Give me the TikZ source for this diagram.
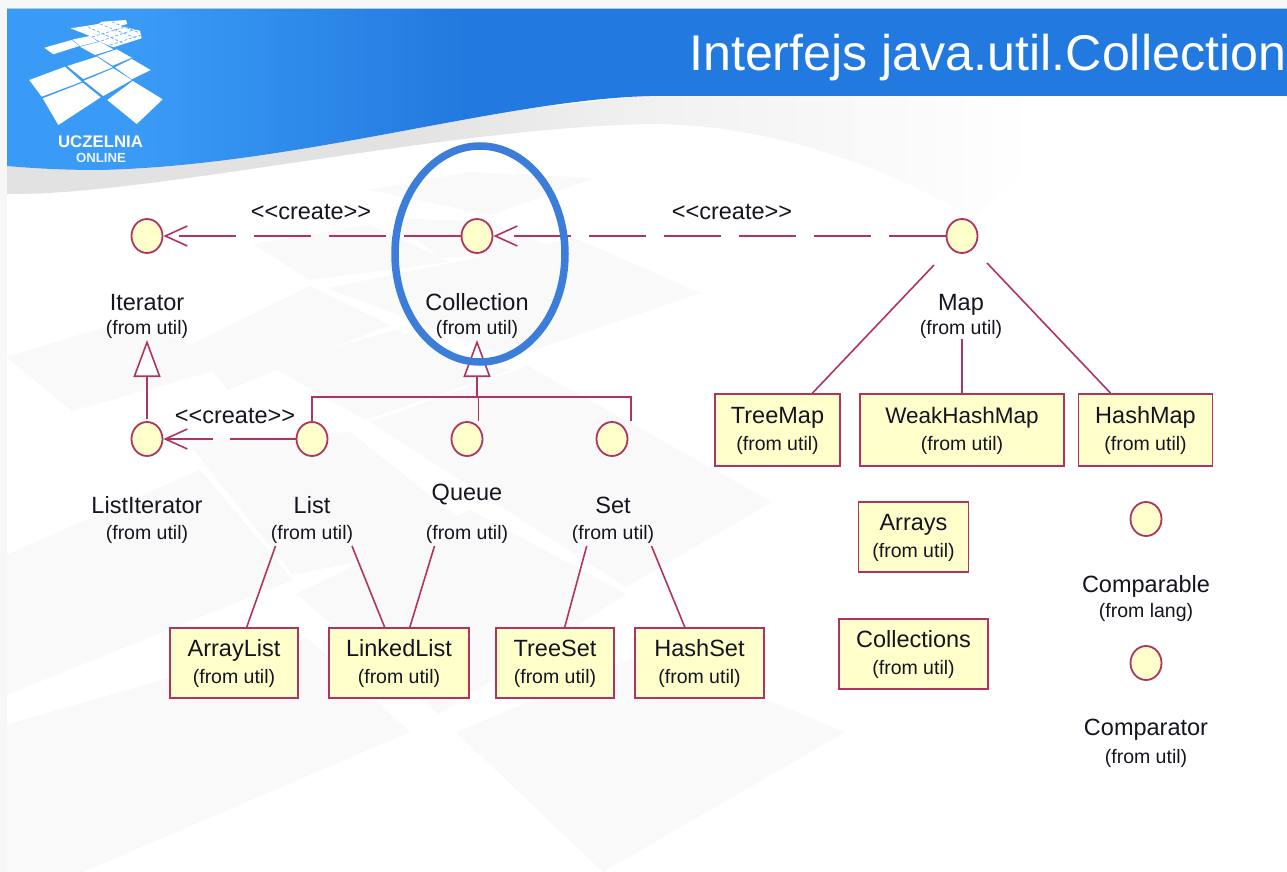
\documentclass[tikz,border=0pt]{standalone}
\usepackage{fontspec}
\setmainfont{Liberation Sans}
\usetikzlibrary{arrows.meta,shapes.geometric}
\definecolor{umlred}{HTML}{B03460}
\definecolor{umlfill}{HTML}{FFFFCC}
\definecolor{inktext}{HTML}{151520}
\definecolor{ringblue}{HTML}{3B7DD8}
\definecolor{hdrA}{HTML}{3A9BF6}
\definecolor{hdrB}{HTML}{2279DF}
\definecolor{swA}{HTML}{E2E2E2}
\definecolor{swB}{HTML}{F1F1F1}
\definecolor{bgtile}{HTML}{F9F9F9}
\pgfdeclarehorizontalshading{hdrshade}{100bp}{color(0bp)=(hdrA); color(30bp)=(hdrA); color(43bp)=(hdrB); color(100bp)=(hdrB)}
\pgfdeclarehorizontalshading{swshade}{100bp}{color(0bp)=(swA); color(43bp)=(swA); color(54bp)=(swB); color(72bp)=(white); color(100bp)=(white)}
\newcommand{\nameSize}{\fontsize{23.5}{28}\selectfont}
\newcommand{\fromSize}{\fontsize{19.5}{24}\selectfont}
\newcommand{\clsbody}[1]{\rule{0pt}{19.5pt}#1\\[-1.5pt]\rule[-6pt]{0pt}{6pt}{\fromSize (from util)}}
\tikzset{
  iface/.style={ellipse,draw=umlred,fill=umlfill,line width=1.8pt,minimum width=31pt,minimum height=34pt,inner sep=0pt},
  classbox/.style={rectangle,draw=umlred,fill=umlfill,line width=1.8pt,inner sep=0pt,align=center,text=inktext,font=\nameSize},
  nametext/.style={anchor=base,inner sep=0pt,text=inktext,font=\nameSize},
  fromtext/.style={anchor=base,inner sep=0pt,text=inktext,font=\fromSize},
  stereo/.style={anchor=base,inner sep=0pt,text=inktext,font=\fontsize{23.5}{28}\selectfont},
  assoc/.style={draw=umlred,line width=1.6pt},
  createdep/.style={draw=umlred,line width=1.7pt,dash pattern=on 57pt off 18pt,-{Straight Barb[length=22pt,width=20pt,line width=1.6pt]}},
  genline/.style={draw=umlred,line width=1.6pt,-{Triangle[open,length=37pt,width=27pt,fill=white,line width=1.6pt]}},
  tile/.style={fill=bgtile,draw=none},
  logotile/.style={fill=white,draw=none},
}
\begin{document}
\begin{tikzpicture}[x=1pt,y=-1pt]
\useasboundingbox (0,0) rectangle (1287,872);
% page edge and slide
\fill[gray!6] (0,0) rectangle (1287,872);
\fill[white] (7,9) rectangle (1287,872);
\draw[green!30!gray!40,line width=0.8pt] (7,8.5) -- (1287,8.5);
% faint background tiles
\fill[tile] (6,725) -- (307,638) -- (410,732) -- (83,872) -- (6,872) -- cycle;
\fill[tile] (456,732) -- (649,652) -- (845,732) -- (603,872) -- cycle;
\fill[tile] (296,594) -- (470,510) -- (626,594) -- (439,714) -- cycle;
\fill[tile] (370,422) -- (528,366) -- (772,502) -- (626,587) -- cycle;
\fill[tile] (6,555) -- (200,470) -- (293,580) -- (6,695) -- cycle;
\fill[tile] (6,357) -- (129,320) -- (238,364) -- (72,411) -- cycle;
\fill[tile] (186,440) -- (350,432) -- (480,535) -- (293,575) -- cycle;
\fill[tile] (190,345) -- (310,286) -- (390,325) -- (228,390) -- cycle;
\fill[tile] (270,366) -- (395,330) -- (510,370) -- (365,420) -- cycle;
\fill[tile] (327,288) -- (575,238) -- (700,293) -- (510,358) -- cycle;
\fill[tile] (253,244) -- (370,225) -- (450,262) -- (310,280) -- cycle;
\fill[tile] (370,190) -- (470,172) -- (595,178) -- (490,215) -- cycle;
\fill[tile] (390,218) -- (490,222) -- (560,250) -- (440,258) -- cycle;
% swoosh and header
\path[shading=swshade] (7,166) -- (7,194) .. controls (150,196) and (440,128) .. (650,124)
  .. controls (770,124) and (880,165) .. (975,218) .. controls (1020,170) and (1060,130) .. (1100,95) -- (650,95) -- cycle;
\path[shading=hdrshade] (7,9) -- (1287,9) -- (1287,96) -- (650,96)
  .. controls (500,100) and (300,165) .. (100,170) .. controls (60,170) and (30,168) .. (7,166) -- cycle;
% logo
\fill[logotile] (29.3,80) -- (65,66.7) -- (81.7,81.7) -- (41.7,96.7) -- cycle;
\fill[logotile] (42.7,98.3) -- (82.7,82.7) -- (100.7,97.3) -- (58.3,125) -- cycle;
\fill[logotile] (67.3,66) -- (96.7,56.7) -- (112.7,67.3) -- (83.3,79) -- cycle;
\fill[logotile] (84,80.7) -- (113.3,68.3) -- (131.7,80) -- (103.3,96) -- cycle;
\fill[logotile] (107.3,100) -- (132.7,81) -- (162.7,99.3) -- (136.7,124) -- cycle;
\fill[logotile] (97.3,56) -- (116.7,49.3) -- (131.7,57.7) -- (112.7,65.7) -- cycle;
\fill[logotile] (115,67.3) -- (131.7,59) -- (150.7,70) -- (131.7,79.3) -- cycle;
\fill[logotile] (44.3,47.7) -- (71.7,40) -- (79.3,46) -- (53.3,54.3) -- cycle;
\fill[logotile] (72.5,39.5) -- (90,36) -- (98,41.7) -- (80,46) -- cycle;
\fill[logotile] (80,46.7) -- (100,41.7) -- (113.3,49.3) -- (95,55) -- cycle;
\fill[logotile] (70.7,28.3) -- (98.3,24) -- (101.7,21.7) -- (126,20) -- (127.3,24) -- (120,26) -- (140,30.7) -- (141.7,38.3) -- (113.3,47.3) -- (100,41.7) -- (90,36) -- (81.7,32.7) -- cycle;
\draw[hdrA!80!white,line width=0.7pt,dash pattern=on 3pt off 2pt] (88,27) -- (125,44) (100,24) -- (136,38) (112,22) -- (140,33) (92,37) -- (128,26) (101,41) -- (136,29) (110,45) -- (141,35);
\node[inner sep=0pt,text=white,font=\bfseries\fontsize{16.8}{20}\selectfont] (logoA) at (100.5,142) {UCZELNIA};
\node[inner sep=0pt,text=white!90!hdrA,font=\bfseries\fontsize{13.2}{14}\selectfont] (logoB) at (101,158) {ONLINE};
% title
\node[anchor=base west,inner sep=0pt,text=white,font=\fontsize{50.2}{60}\selectfont] (title) at (689,71) {Interfejs java.util.Collection};

% interfaces
\node[iface] (Iterator) at (147,236) {};
\node[iface] (Collection) at (477,236) {};
\node[iface] (Map) at (962,236) {};
\node[iface] (ListIterator) at (147,439) {};
\node[iface] (List) at (312,439) {};
\node[iface] (Queue) at (467,439) {};
\node[iface] (Set) at (612,439) {};
\node[iface] (Comparable) at (1146,519) {};
\node[iface] (Comparator) at (1146,663) {};

% interface labels
\node[nametext] (IteratorN) at (147,310) {Iterator};
\node[fromtext] (IteratorF) at (147,334) {(from util)};
\node[nametext] (CollectionN) at (477,310) {Collection};
\node[fromtext] (CollectionF) at (477,334) {(from util)};
\node[nametext] (MapN) at (961,310) {Map};
\node[fromtext] (MapF) at (961,334) {(from util)};
\node[nametext] (ListIteratorN) at (147,513) {ListIterator};
\node[fromtext] (ListIteratorF) at (147,539) {(from util)};
\node[nametext] (ListN) at (312,513) {List};
\node[fromtext] (ListF) at (312,539) {(from util)};
\node[nametext] (QueueN) at (467,500) {Queue};
\node[fromtext] (QueueF) at (467,539) {(from util)};
\node[nametext] (SetN) at (613,513) {Set};
\node[fromtext] (SetF) at (613,539) {(from util)};
\node[nametext] (ComparableN) at (1146,592) {Comparable};
\node[fromtext] (ComparableF) at (1146,617) {(from lang)};
\node[nametext] (ComparatorN) at (1146,735) {Comparator};
\node[fromtext] (ComparatorF) at (1146,763) {(from util)};

% classes
\node[classbox,minimum width=125pt,minimum height=72pt] (TreeMap) at (777.5,430) {\clsbody{TreeMap}};
\node[classbox,minimum width=204pt,minimum height=72pt] (WeakHashMap) at (962,430) {\clsbody{{\fontsize{22.5}{28}\selectfont WeakHashMap}}};
\node[classbox,minimum width=134pt,minimum height=72pt] (HashMap) at (1145.5,430) {\clsbody{HashMap}};
\node[classbox,minimum width=110pt,minimum height=70pt] (Arrays) at (913.5,537) {\clsbody{Arrays}};
\node[classbox,minimum width=149pt,minimum height=70pt] (Collections) at (913.5,654) {\clsbody{Collections}};
\node[classbox,minimum width=128pt,minimum height=70pt] (ArrayList) at (234,663) {\clsbody{ArrayList}};
\node[classbox,minimum width=140pt,minimum height=70pt] (LinkedList) at (399,663) {\clsbody{LinkedList}};
\node[classbox,minimum width=118pt,minimum height=70pt] (TreeSet) at (555,663) {\clsbody{TreeSet}};
\node[classbox,minimum width=129pt,minimum height=70pt] (HashSet) at (699.5,663) {\clsbody{HashSet}};

% free ends
\coordinate (mapA) at (934,265);
\coordinate (mapB) at (962,339);
\coordinate (mapC) at (987,263);
\coordinate (listA) at (275.5,546);
\coordinate (listB) at (352,546);
\coordinate (queueA) at (434.5,546);
\coordinate (setA) at (586.7,546);
\coordinate (setB) at (651.5,546);
\coordinate (iterTip) at (147,340);
\coordinate (colTip) at (477,340);
\coordinate (colJoin) at (477,397);
\coordinate (busL) at (312,421);
\coordinate (busR) at (631,421);
\coordinate (queueDrop) at (478.6,421);

% associations
\draw[assoc] (mapA) -- (TreeMap);
\draw[assoc] (mapB) -- (WeakHashMap);
\draw[assoc] (mapC) -- (HashMap);
\draw[assoc] (listA) -- (ArrayList);
\draw[assoc] (listB) -- (LinkedList);
\draw[assoc] (queueA) -- (LinkedList);
\draw[assoc] (setA) -- (TreeSet);
\draw[assoc] (setB) -- (HashSet);

% generalisations
\draw[genline,shorten <=2pt] (ListIterator) -- (iterTip);
\draw[genline] (colJoin) -- (colTip);
\draw[assoc] (busL) |- (colJoin) -| (busR);
\draw[assoc] (queueDrop) -- (queueDrop |- colJoin);

% create dependencies
\draw[createdep] (Collection) -- (Iterator);
\draw[createdep] (Map) -- (Collection);
\draw[createdep,dash pattern=on 66pt off 17pt on 60pt] (List) -- (ListIterator);
\node[stereo] (createA) at (311,219) {<{}<create>{}>};
\node[stereo] (createB) at (732,219) {<{}<create>{}>};
\node[stereo] (createC) at (235,423) {<{}<create>{}>};

% highlight ring
\node[ellipse,draw=ringblue,line width=7.5pt,minimum width=170pt,minimum height=216pt,inner sep=0pt] (ring) at (480,254) {};
\end{tikzpicture}
\end{document}
